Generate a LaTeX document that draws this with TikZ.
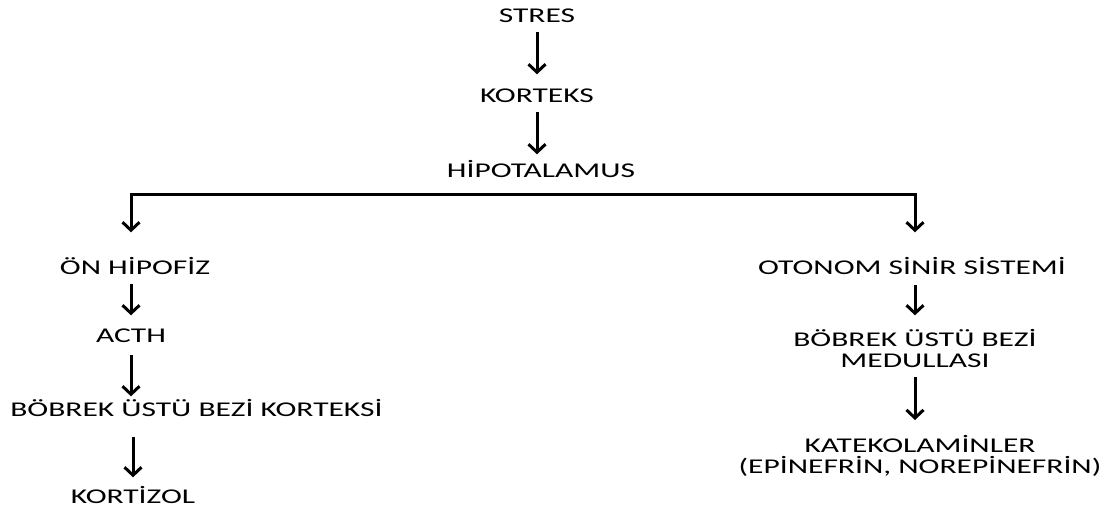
\documentclass[tikz,border=0pt]{standalone}
\usepackage{fontspec}
\setmainfont{Carlito}
\usetikzlibrary{arrows.meta}
\tikzset{
  lbl/.style={inner sep=0pt, font=\fontsize{21}{21}\selectfont, text height=13.5pt, text depth=0pt, xscale=1.5, transform shape},
  mlbl/.style={inner sep=0pt, font=\fontsize{21}{21}\selectfont, align=center, xscale=1.5, transform shape},
  tip/.style={Straight Barb[length=8pt,width=17pt,line width=3pt]},
  arr/.style={line width=3pt, -{Straight Barb[length=8pt,width=17pt,line width=3pt]}},
}
\begin{document}
\begin{tikzpicture}[x=1pt,y=-1pt]
\useasboundingbox (0,0) rectangle (1111,510);
\node[lbl, anchor=base] (stres) at (537,23) {STRES};
\node[lbl, anchor=base] (korteks) at (537,103) {KORTEKS};
\node[lbl, anchor=base] (hipo) at (541,178) {HİPOTALAMUS};
\node[lbl, anchor=base] (onhip) at (135,275) {ÖN HİPOFİZ};
\node[lbl, anchor=base] (acth) at (131,343) {ACTH};
\node[lbl, anchor=base west] (bbk) at (10,417) {BÖBREK ÜSTÜ BEZİ KORTEKSİ};
\node[lbl, anchor=base] (kortizol) at (133,503) {KORTİZOL};
\node[lbl, anchor=base] (oss) at (912,275) {OTONOM SİNİR SİSTEMİ};
\node[mlbl, anchor=south] (bbm) at (915,368) {BÖBREK ÜSTÜ BEZİ\\MEDULLASI};
\node[mlbl, anchor=north] (kat) at (920,435) {KATEKOLAMİNLER\\(EPİNEFRİN, NOREPİNEFRİN)};

\draw[arr, shorten <=9pt, shorten >=15pt] (stres.south) -- (stres.south |- korteks.north);
\draw[arr, shorten <=9pt, shorten >=10pt] (korteks.south) -- (korteks.south |- hipo.north);
\draw[line width=3pt, {Straight Barb[length=8pt,width=17pt,line width=3pt]}-{Straight Barb[length=8pt,width=17pt,line width=3pt]}, shorten <=29pt, shorten >=29pt]
  (acth.south |- onhip.north) |- (bbm.north |- 0,195) -| (bbm.north |- oss.north);
\draw[arr, shorten <=9pt, shorten >=14pt] (acth.south |- onhip.south) -- (acth.north);
\draw[arr, shorten <=12pt, shorten >=7pt] (acth.south) -- (acth.south |- bbk.north);
\draw[arr, shorten <=20pt, shorten >=12pt] (bbk.south -| kortizol.north) -- (kortizol.north);
\draw[arr, shorten <=10pt, shorten >=14pt] (bbm.north |- oss.south) -- (bbm.north);
\draw[arr, shorten <=9pt, shorten >=15pt] (bbm.south) -- (bbm.south |- kat.north);
\end{tikzpicture}
\end{document}
